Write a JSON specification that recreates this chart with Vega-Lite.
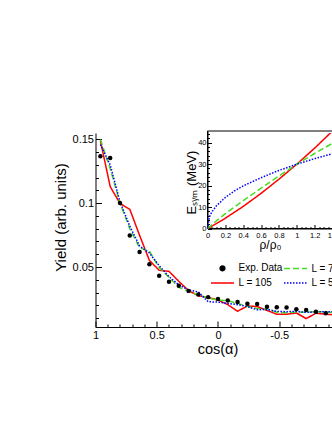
{
  "$schema": "https://vega.github.io/schema/vega-lite/v6.json",
  "width": 237,
  "height": 194,
  "autosize": {"type": "none"},
  "padding": {"left": 95.5, "top": 133, "right": 0, "bottom": 103},
  "background": "white",
  "config": {
    "view": {"stroke": null},
    "font": "Liberation Sans",
    "axis": {
      "domainColor": "black", "domainWidth": 1, "tickColor": "black", "tickWidth": 1,
      "labelColor": "black", "titleColor": "black", "titleFontWeight": "normal",
      "grid": false, "labelFlush": false, "labelOverlap": false, "labelBound": false, "labelFont": "Liberation Sans", "titleFont": "Liberation Sans"
    }
  },
  "datasets": {
    "exp": [
      {"c": 0.96, "v": 0.1368, "series": "Exp. Data"},
      {"c": 0.88, "v": 0.1354, "series": "Exp. Data"},
      {"c": 0.80, "v": 0.1002, "series": "Exp. Data"},
      {"c": 0.72, "v": 0.0747, "series": "Exp. Data"},
      {"c": 0.64, "v": 0.0618, "series": "Exp. Data"},
      {"c": 0.56, "v": 0.0521, "series": "Exp. Data"},
      {"c": 0.48, "v": 0.0432, "series": "Exp. Data"},
      {"c": 0.40, "v": 0.0385, "series": "Exp. Data"},
      {"c": 0.32, "v": 0.0354, "series": "Exp. Data"},
      {"c": 0.24, "v": 0.0313, "series": "Exp. Data"},
      {"c": 0.16, "v": 0.0285, "series": "Exp. Data"},
      {"c": 0.08, "v": 0.0264, "series": "Exp. Data"},
      {"c": 0.00, "v": 0.0250, "series": "Exp. Data"},
      {"c": -0.08, "v": 0.0238, "series": "Exp. Data"},
      {"c": -0.16, "v": 0.0226, "series": "Exp. Data"},
      {"c": -0.24, "v": 0.0212, "series": "Exp. Data"},
      {"c": -0.32, "v": 0.0210, "series": "Exp. Data"},
      {"c": -0.40, "v": 0.0189, "series": "Exp. Data"},
      {"c": -0.48, "v": 0.0184, "series": "Exp. Data"},
      {"c": -0.56, "v": 0.0182, "series": "Exp. Data"},
      {"c": -0.64, "v": 0.0170, "series": "Exp. Data"},
      {"c": -0.72, "v": 0.0163, "series": "Exp. Data"},
      {"c": -0.80, "v": 0.0150, "series": "Exp. Data"},
      {"c": -0.88, "v": 0.0137, "series": "Exp. Data"}
    ],
    "model": [
      {"c": 0.96, "v": 0.149, "series": "L = 105"},
      {"c": 0.88, "v": 0.113, "series": "L = 105"},
      {"c": 0.80, "v": 0.0998, "series": "L = 105"},
      {"c": 0.72, "v": 0.0952, "series": "L = 105"},
      {"c": 0.64, "v": 0.0748, "series": "L = 105"},
      {"c": 0.56, "v": 0.0552, "series": "L = 105"},
      {"c": 0.48, "v": 0.0474, "series": "L = 105"},
      {"c": 0.40, "v": 0.0466, "series": "L = 105"},
      {"c": 0.32, "v": 0.0388, "series": "L = 105"},
      {"c": 0.24, "v": 0.0315, "series": "L = 105"},
      {"c": 0.16, "v": 0.0275, "series": "L = 105"},
      {"c": 0.08, "v": 0.0260, "series": "L = 105"},
      {"c": 0.00, "v": 0.0242, "series": "L = 105"},
      {"c": -0.08, "v": 0.0205, "series": "L = 105"},
      {"c": -0.16, "v": 0.0153, "series": "L = 105"},
      {"c": -0.24, "v": 0.0195, "series": "L = 105"},
      {"c": -0.32, "v": 0.0190, "series": "L = 105"},
      {"c": -0.40, "v": 0.0160, "series": "L = 105"},
      {"c": -0.48, "v": 0.0130, "series": "L = 105"},
      {"c": -0.56, "v": 0.0130, "series": "L = 105"},
      {"c": -0.64, "v": 0.0140, "series": "L = 105"},
      {"c": -0.72, "v": 0.0096, "series": "L = 105"},
      {"c": -0.80, "v": 0.0138, "series": "L = 105"},
      {"c": -0.88, "v": 0.0130, "series": "L = 105"},
      {"c": -0.96, "v": 0.0125, "series": "L = 105"},
      {"c": 0.96, "v": 0.150, "series": "L = 75"},
      {"c": 0.88, "v": 0.127, "series": "L = 75"},
      {"c": 0.80, "v": 0.1000, "series": "L = 75"},
      {"c": 0.72, "v": 0.0800, "series": "L = 75"},
      {"c": 0.64, "v": 0.0650, "series": "L = 75"},
      {"c": 0.56, "v": 0.0625, "series": "L = 75"},
      {"c": 0.48, "v": 0.0495, "series": "L = 75"},
      {"c": 0.40, "v": 0.0420, "series": "L = 75"},
      {"c": 0.32, "v": 0.0340, "series": "L = 75"},
      {"c": 0.24, "v": 0.0310, "series": "L = 75"},
      {"c": 0.16, "v": 0.0280, "series": "L = 75"},
      {"c": 0.08, "v": 0.0258, "series": "L = 75"},
      {"c": 0.00, "v": 0.0240, "series": "L = 75"},
      {"c": -0.08, "v": 0.0236, "series": "L = 75"},
      {"c": -0.16, "v": 0.0215, "series": "L = 75"},
      {"c": -0.24, "v": 0.0190, "series": "L = 75"},
      {"c": -0.32, "v": 0.0175, "series": "L = 75"},
      {"c": -0.40, "v": 0.0172, "series": "L = 75"},
      {"c": -0.48, "v": 0.0145, "series": "L = 75"},
      {"c": -0.56, "v": 0.0142, "series": "L = 75"},
      {"c": -0.64, "v": 0.0148, "series": "L = 75"},
      {"c": -0.72, "v": 0.0145, "series": "L = 75"},
      {"c": -0.80, "v": 0.0150, "series": "L = 75"},
      {"c": -0.88, "v": 0.0148, "series": "L = 75"},
      {"c": -0.96, "v": 0.0145, "series": "L = 75"},
      {"c": 0.96, "v": 0.146, "series": "L = 55"},
      {"c": 0.88, "v": 0.130, "series": "L = 55"},
      {"c": 0.80, "v": 0.1010, "series": "L = 55"},
      {"c": 0.72, "v": 0.0820, "series": "L = 55"},
      {"c": 0.64, "v": 0.0665, "series": "L = 55"},
      {"c": 0.56, "v": 0.0610, "series": "L = 55"},
      {"c": 0.48, "v": 0.0510, "series": "L = 55"},
      {"c": 0.40, "v": 0.0425, "series": "L = 55"},
      {"c": 0.32, "v": 0.0360, "series": "L = 55"},
      {"c": 0.24, "v": 0.0320, "series": "L = 55"},
      {"c": 0.16, "v": 0.0305, "series": "L = 55"},
      {"c": 0.08, "v": 0.0228, "series": "L = 55"},
      {"c": 0.00, "v": 0.0225, "series": "L = 55"},
      {"c": -0.08, "v": 0.0215, "series": "L = 55"},
      {"c": -0.16, "v": 0.0205, "series": "L = 55"},
      {"c": -0.24, "v": 0.0190, "series": "L = 55"},
      {"c": -0.32, "v": 0.0165, "series": "L = 55"},
      {"c": -0.40, "v": 0.0168, "series": "L = 55"},
      {"c": -0.48, "v": 0.0152, "series": "L = 55"},
      {"c": -0.56, "v": 0.0150, "series": "L = 55"},
      {"c": -0.64, "v": 0.0152, "series": "L = 55"},
      {"c": -0.72, "v": 0.0145, "series": "L = 55"},
      {"c": -0.80, "v": 0.0148, "series": "L = 55"},
      {"c": -0.88, "v": 0.0150, "series": "L = 55"},
      {"c": -0.96, "v": 0.0148, "series": "L = 55"}
    ],
    "esym": [
      {"rho": 0, "E": 0, "series": "L = 105"},
      {"rho": 0.1, "E": 2.3, "series": "L = 105"},
      {"rho": 0.2, "E": 4.8, "series": "L = 105"},
      {"rho": 0.4, "E": 10.3, "series": "L = 105"},
      {"rho": 0.6, "E": 16.4, "series": "L = 105"},
      {"rho": 0.8, "E": 23.0, "series": "L = 105"},
      {"rho": 1.0, "E": 30.0, "series": "L = 105"},
      {"rho": 1.2, "E": 37.5, "series": "L = 105"},
      {"rho": 1.4, "E": 45.5, "series": "L = 105"},
      {"rho": 0, "E": 0, "series": "L = 75"},
      {"rho": 0.1, "E": 3.6, "series": "L = 75"},
      {"rho": 0.2, "E": 6.9, "series": "L = 75"},
      {"rho": 0.4, "E": 13.0, "series": "L = 75"},
      {"rho": 0.6, "E": 18.8, "series": "L = 75"},
      {"rho": 0.8, "E": 24.5, "series": "L = 75"},
      {"rho": 1.0, "E": 30.0, "series": "L = 75"},
      {"rho": 1.2, "E": 35.0, "series": "L = 75"},
      {"rho": 1.4, "E": 39.8, "series": "L = 75"},
      {"rho": 0, "E": 0, "series": "L = 55"},
      {"rho": 0.02, "E": 5.3, "series": "L = 55"},
      {"rho": 0.05, "E": 7.8, "series": "L = 55"},
      {"rho": 0.1, "E": 10.6, "series": "L = 55"},
      {"rho": 0.2, "E": 14.5, "series": "L = 55"},
      {"rho": 0.3, "E": 17.5, "series": "L = 55"},
      {"rho": 0.4, "E": 19.9, "series": "L = 55"},
      {"rho": 0.6, "E": 23.7, "series": "L = 55"},
      {"rho": 0.8, "E": 27.1, "series": "L = 55"},
      {"rho": 1.0, "E": 30.0, "series": "L = 55"},
      {"rho": 1.2, "E": 32.6, "series": "L = 55"},
      {"rho": 1.4, "E": 34.9, "series": "L = 55"}
    ]
  },
  "layer": [
    {
      "layer": [
        {
          "data": {"name": "model"},
          "mark": {"type": "line", "strokeWidth": 1.5, "clip": true},
          "encoding": {
            "x": {"field": "c", "type": "quantitative",
              "scale": {"domain": [1, -0.935], "nice": false, "zero": false},
              "axis": {
                "orient": "bottom",
                "title": "cos(α)", "titleFontSize": 14.5, "titleX": 122, "titleY": 26, "titleBaseline": "alphabetic",
                "values": [1, 0.5, 0, -0.5],
                "labelExpr": "replace(format(datum.value, '~g'), '−', '-')",
                "labelFontSize": 11, "labelPadding": 8, "tickSize": -6
              }},
            "y": {"field": "v", "type": "quantitative",
              "scale": {"domain": [0.003, 0.155], "nice": false, "zero": false},
              "axis": {
                "orient": "left",
                "title": "Yield (arb. units)", "titleFontSize": 15, "titleX": -29.8, "titleY": 84, "titleBaseline": "alphabetic", "titleAngle": 270,
                "values": [0.05, 0.1, 0.15],
                "labelExpr": "format(datum.value, '~g')",
                "labelFontSize": 11, "labelPadding": 8, "tickSize": -6
              }},
            "color": {"field": "series", "type": "nominal",
              "scale": {"domain": ["Exp. Data", "L = 105", "L = 75", "L = 55"], "range": ["black", "#ff0000", "#44dd22", "#0000ff"]},
              "legend": {
                "orient": "none", "legendX": 121, "legendY": 129, "title": null, "columns": 2,
                "columnPadding": -2, "rowPadding": 3, "padding": 0,
                "symbolSize": 100, "labelOffset": 10, "labelFontSize": 10, "labelColor": "black", "labelFont": "Liberation Sans",
                "encode": {"symbols": {"update": {
                  "shape": {"signal": "datum.value === 'Exp. Data' ? 'circle' : 'M-2.3,0H2.3'"},
                  "size": {"signal": "datum.value === 'Exp. Data' ? 22 : 100"},
                  "fill": {"signal": "datum.value === 'Exp. Data' ? 'black' : 'transparent'"},
                  "stroke": {"signal": "datum.value === 'Exp. Data' ? 'transparent' : scale('color', datum.value)"},
                  "strokeDash": {"signal": "datum.value === 'L = 75' ? [6,3] : datum.value === 'L = 55' ? [1.5,1.5] : [1,0]"},
                  "strokeWidth": {"value": 1.5},
                  "opacity": {"value": 1}
                }}}
              }},
            "strokeDash": {"field": "series", "type": "nominal",
              "scale": {"domain": ["L = 105", "L = 75", "L = 55"], "range": [[1, 0], [6, 3], [1.5, 1.5]]},
              "legend": null}
          }
        },
        {
          "data": {"name": "exp"},
          "mark": {"type": "point", "filled": true, "size": 20, "opacity": 1, "clip": true},
          "encoding": {
            "x": {"field": "c", "type": "quantitative",
              "axis": {"orient": "bottom", "title": null, "labels": false, "domain": false, "tickSize": -3,
                "values": [0.9, 0.8, 0.7, 0.6, 0.4, 0.3, 0.2, 0.1, -0.1, -0.2, -0.3, -0.4, -0.6, -0.7, -0.8, -0.9]}},
            "y": {"field": "v", "type": "quantitative",
              "axis": {"orient": "left", "title": null, "labels": false, "domain": false, "tickSize": -3,
                "values": [0.01, 0.02, 0.03, 0.04, 0.06, 0.07, 0.08, 0.09, 0.11, 0.12, 0.13, 0.14]}},
            "color": {"field": "series", "type": "nominal"}
          }
        }
      ],
      "resolve": {"axis": {"x": "independent", "y": "independent"}}
    },
    {
      "layer": [
        {
          "data": {"values": [{}]},
          "mark": {"type": "rect", "fill": "transparent", "stroke": "black", "strokeWidth": 1},
          "encoding": {
            "x": {"datum": 0, "type": "quantitative",
              "scale": {"domain": [0, 1.4], "range": [112, 237], "nice": false, "zero": false},
              "axis": {
                "orient": "bottom", "offset": -98.5, "title": "ρ/ρ₀", "titleFontSize": 12, "titleY": 20, "titleBaseline": "alphabetic",
                "values": [0, 0.2, 0.4, 0.6, 0.8, 1, 1.2, 1.4],
                "labelExpr": "format(datum.value, '~g')",
                "labelFontSize": 7.5, "labelPadding": 6.5, "tickSize": -4
              }},
            "x2": {"datum": 1.4},
            "y": {"datum": 0, "type": "quantitative",
              "scale": {"domain": [0, 45.5], "range": [95.5, -2], "nice": false, "zero": false},
              "axis": {
                "orient": "left", "offset": -112, "title": "Eₛᵧₘ (MeV)", "titleFontSize": 13, "titleX": -12.5, "titleY": 49, "titleBaseline": "alphabetic", "titleAngle": 270,
                "values": [0, 10, 20, 30, 40],
                "labelExpr": "format(datum.value, '~g')",
                "labelFontSize": 7.5, "labelPadding": 5.5, "tickSize": -4
              }},
            "y2": {"datum": 45.5}
          }
        },
        {
          "data": {"name": "esym"},
          "mark": {"type": "line", "strokeWidth": 1.5, "clip": true},
          "encoding": {
            "x": {"field": "rho", "type": "quantitative",
              "axis": {"orient": "bottom", "offset": -98.5, "title": null, "labels": false, "domain": false, "tickSize": -2,
                "values": [0.05, 0.1, 0.15, 0.25, 0.3, 0.35, 0.45, 0.5, 0.55, 0.65, 0.7, 0.75, 0.85, 0.9, 0.95, 1.05, 1.1, 1.15, 1.25, 1.3, 1.35]}},
            "y": {"field": "E", "type": "quantitative",
              "axis": {"orient": "left", "offset": -112, "title": null, "labels": false, "domain": false, "tickSize": -2,
                "values": [2, 4, 6, 8, 12, 14, 16, 18, 22, 24, 26, 28, 32, 34, 36, 38, 42, 44]}},
            "color": {"field": "series", "type": "nominal"},
            "strokeDash": {"field": "series", "type": "nominal", "legend": null}
          }
        }
      ],
      "resolve": {"axis": {"x": "independent", "y": "independent"}}
    }
  ],
  "resolve": {"scale": {"x": "independent", "y": "independent"}}
}
